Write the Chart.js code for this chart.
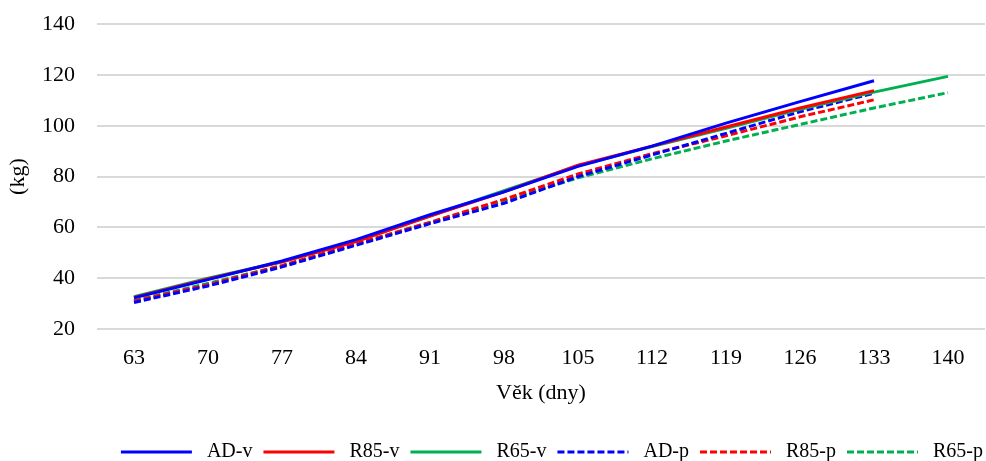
<!DOCTYPE html>
<html>
<head>
<meta charset="utf-8">
<script src="https://cdn.jsdelivr.net/npm/chart.js@4/dist/chart.umd.min.js"></script>
<style>
  html, body { margin: 0; padding: 0; background: #fff; }
  #wrap { width: 986px; height: 461px; }
</style>
</head>
<body>
<div id="wrap"><canvas id="growthChart"></canvas></div>
<script>
const ages = ['63', '70', '77', '84', '91', '98', '105', '112', '119', '126', '133', '140'];

const adV  = [32.3, 39.5, 46.8, 55.2, 65.0, 74.0, 84.0, 92.0, 101.0, 109.5, 117.7, null];
const r85V = [32.5, 39.8, 46.5, 54.5, 64.5, 74.0, 84.5, 92.0, 99.5, 107.0, 113.8, null];
const r65V = [32.8, 40.0, 46.5, 54.8, 64.5, 74.5, 84.2, 91.8, 99.0, 106.5, 113.2, 119.4];
const adP  = [30.5, 37.0, 44.5, 53.0, 61.5, 69.5, 80.0, 88.5, 97.0, 105.5, 112.8, null];
const r85P = [31.0, 37.5, 45.0, 53.5, 62.0, 71.0, 81.0, 89.0, 96.0, 103.5, 110.2, null];
const r65P = [31.3, 38.0, 45.0, 53.5, 62.0, 70.5, 79.5, 87.0, 94.0, 100.5, 107.0, 113.0];

const fontFamily = '"Liberation Serif", "Times New Roman", serif';

function line(label, data, color, dashed) {
  return {
    label: label,
    data: data,
    borderColor: color,
    backgroundColor: color,
    borderWidth: 3,
    borderDash: dashed ? [7, 3] : [],
    pointRadius: 0,
    tension: 0,
    fill: false
  };
}

// nudge the legend a few px to the right, like the original
const legendShift = {
  id: 'legendShift',
  afterLayout: function (chart) {
    if (chart.legend) {
      chart.legend.left += 9;
      chart.legend.right += 9;
    }
  }
};

const ctx = document.getElementById('growthChart').getContext('2d');
const growthChart = new Chart(ctx, {
  type: 'line',
  data: {
    labels: ages,
    datasets: [
      line('AD-v', adV, '#0000FF', false),
      line('R85-v', r85V, '#FF0000', false),
      line('R65-v', r65V, '#00B050', false),
      line('AD-p', adP, '#0000FF', true),
      line('R85-p', r85P, '#FF0000', true),
      line('R65-p', r65P, '#00B050', true)
    ]
  },
  plugins: [legendShift],
  options: {
    responsive: true,
    maintainAspectRatio: false,
    animation: false,
    layout: {
      padding: { left: 0, right: 1, top: 24, bottom: -11 }
    },
    plugins: {
      legend: {
        position: 'bottom',
        align: 'end',
        labels: {
          usePointStyle: true,
          pointStyle: 'line',
          pointStyleWidth: 71,
          boxHeight: 20,
          padding: 11,
          color: '#000',
          font: { family: fontFamily, size: 20 },
          // keep the dash pattern of each dataset in the legend
          generateLabels: function (chart) {
            const items = Chart.defaults.plugins.legend.labels.generateLabels(chart);
            items.forEach(function (item) {
              item.lineDash = chart.data.datasets[item.datasetIndex].borderDash;
              item.lineWidth = 3;
              item.text = ' ' + item.text;
            });
            return items;
          }
        }
      },
      tooltip: { enabled: false }
    },
    scales: {
      x: {
        offset: true,
        grid: { display: false, drawTicks: false },
        border: { display: false },
        ticks: {
          color: '#000',
          padding: 16,
          maxRotation: 0,
          font: { family: fontFamily, size: 22 }
        },
        title: {
          display: true,
          text: 'Věk (dny)',
          color: '#000',
          padding: { top: -8, bottom: 25 },
          font: { family: fontFamily, size: 22 }
        }
      },
      y: {
        min: 20,
        max: 140,
        grid: { color: '#d9d9d9', lineWidth: 2, drawTicks: false },
        border: { display: false },
        ticks: {
          stepSize: 20,
          color: '#000',
          padding: 22,
          font: { family: fontFamily, size: 22 }
        },
        title: {
          display: true,
          text: '(kg)',
          color: '#000',
          padding: { top: 5, bottom: 0 },
          font: { family: fontFamily, size: 22 }
        },
        afterFit: function (scale) {
          scale.width = 97;
          scale.paddingTop = 0;
          scale.paddingBottom = 0;
        }
      }
    }
  }
});
</script>
</body>
</html>
